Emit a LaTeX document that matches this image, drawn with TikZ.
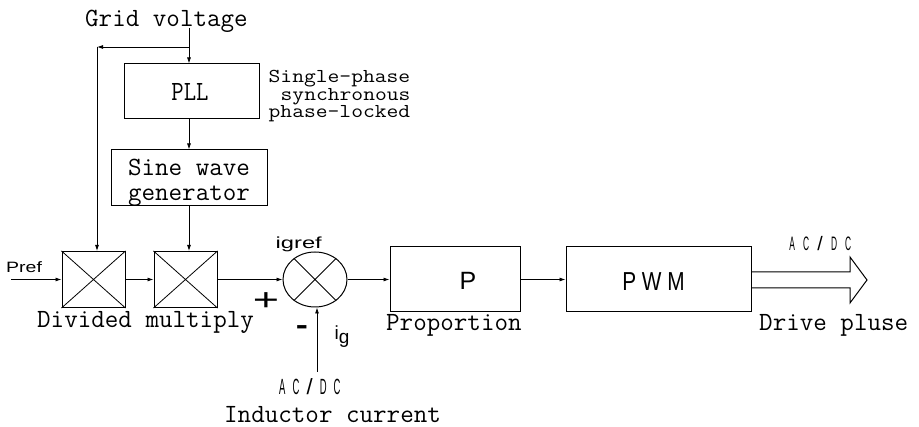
\documentclass[tikz,border=0pt]{standalone}
\usepackage{fontspec}
\usepackage{graphicx}
\newfontfamily\sansf{Liberation Sans}
\newfontfamily\sansbf{Liberation Sans Bold}
\usetikzlibrary{arrows.meta,shapes.geometric}
\newcommand\fs[1]{\fontsize{#1pt}{#1pt}\selectfont}
\newcommand\nb[2]{\makebox[#1pt]{\scalebox{0.43}[1]{#2}}}
\begin{document}
\begin{tikzpicture}[x=1pt,y=-1pt,
  box/.style={draw, line width=1pt, inner sep=0pt},
  arr/.style={-{Latex[length=6pt,width=4pt]}, line width=0.8pt},
  wire/.style={line width=0.8pt},
  lab/.style={inner sep=0pt, anchor=base west, font=\ttfamily\fs{26.3}},
  slab/.style={inner sep=0pt, anchor=base west, font=\sansf},
]
\useasboundingbox (0,0) rectangle (919,427);
% blocks
\node[box, minimum width=135, minimum height=55] (pll) at (191.5,91.5) {};
\node[inner sep=0pt, font=\ttfamily\fs{24}] (pllt) at (190,91.5) {\scalebox{1}[1.16]{PLL}};
\node[box, minimum width=156, minimum height=56] (sine) at (189,178) {};
\node[lab, anchor=base] (sine1) at (189,176) {Sine wave};
\node[lab, anchor=base] (sine2) at (189,201) {generator};
\node[box, minimum width=63, minimum height=56] (div) at (93.5,279.5) {};
\node[box, minimum width=63, minimum height=56] (mult) at (185.5,279.5) {};
\draw[line width=0.8pt] (div.north west) -- (div.south east) (div.north east) -- (div.south west);
\draw[line width=0.8pt] (mult.north west) -- (mult.south east) (mult.north east) -- (mult.south west);
\node[draw, ellipse, line width=1pt, minimum width=64, minimum height=55, inner sep=0pt] (sum) at (315,279.5) {};
\draw[line width=0.8pt] (sum.45) -- (sum.225) (sum.135) -- (sum.315);
\node[box, minimum width=130, minimum height=65] (pbox) at (455,279.5) {};
\node[inner sep=0pt, anchor=base, font=\sansf\fs{25}] (ptext) at (468,290) {P};
\node[box, minimum width=185, minimum height=65] (pwm) at (658.5,279.5) {};
\node[inner sep=0pt, anchor=base, font=\sansf\fs{26}] (pwmt) at (653.5,290.5) {\scalebox{0.8}[1]{P W M}};
% top connections
\coordinate (gtop) at (189,28);
\coordinate (gj) at (189,47);
\coordinate (gl) at (97,47);
\draw[wire] (gtop) -- (gj);
\draw[arr] (gj) -- (gj |- pll.north);
\draw[arr] (gj) -- (gl);
\draw[arr] (gl) -- (gl |- div.north);
\draw[arr] (gj |- pll.south) -- (gj |- sine.north);
\draw[arr] (gj |- sine.south) -- (gj |- mult.north);
% main path
\coordinate (pin) at (11,279.5);
\draw[arr] (pin) -- (div.west);
\draw[arr] (div.east) -- (mult.west);
\draw[arr] (mult.east) -- (sum.west);
\draw[arr] (sum.east) -- (pbox.west);
\draw[arr] (pbox.east) -- (pwm.west);
\coordinate (ib) at (317,372);
\draw[arr] (ib) -- (ib |- sum.south);
% hollow output arrow
\draw[line width=1pt] (751,272) -- (850,272) -- (850,257) -- (867,280) -- (850,303) -- (850,288) -- (751,288);
% texts
\node[lab] (grid) at (85,27) {Grid voltage};
\node[inner sep=0pt, anchor=base west, font=\ttfamily\fontsize{22.9pt}{19.8pt}\selectfont] (note) at (268.5,83)
  {\scalebox{1}[0.86]{\begin{tabular}[t]{@{}l@{}}Single-phase\\\hspace*{12pt}synchronous\\phase-locked\end{tabular}}};
\node[lab] (dm) at (37,328) {Divided multiply};
\node[lab] (prop) at (386,331) {Proportion};
\node[lab] (drv) at (759,331) {Drive pluse};
\node[lab] (ind) at (224,423) {Inductor current};
\node[slab, font=\sansf\fs{22}] (acdc1) at (275.2,395) {\nb{13.7}{A}\nb{13.7}{C}\makebox[13.7pt]{/}\nb{13.7}{D}\nb{13.7}{C}};
\node[slab, font=\sansf\fs{19.5}] (acdc2) at (785,251) {\nb{14}{A}\nb{14}{C}\makebox[14pt]{/}\nb{14}{D}\nb{14}{C}};
\node[slab, font=\sansf\fs{15}] (preft) at (6,273) {\scalebox{1.3}[1]{Pref}};
\node[slab, font=\sansf\fs{16}] (igref) at (275.5,248.5) {\scalebox{1.48}[1]{igref}};
\node[slab, font=\sansf\fs{19}] (ig) at (334.5,340) {i\raisebox{-4pt}{g}};
\node[inner sep=0pt, anchor=base, font=\sansf\fs{31}] (plus) at (266,310.4) {\scalebox{1.45}[1]{+}};
\node[inner sep=0pt, anchor=base, font=\sansbf\fs{28}] (minus) at (302,334.3) {\scalebox{1.3}[1]{-}};
\end{tikzpicture}
\end{document}
